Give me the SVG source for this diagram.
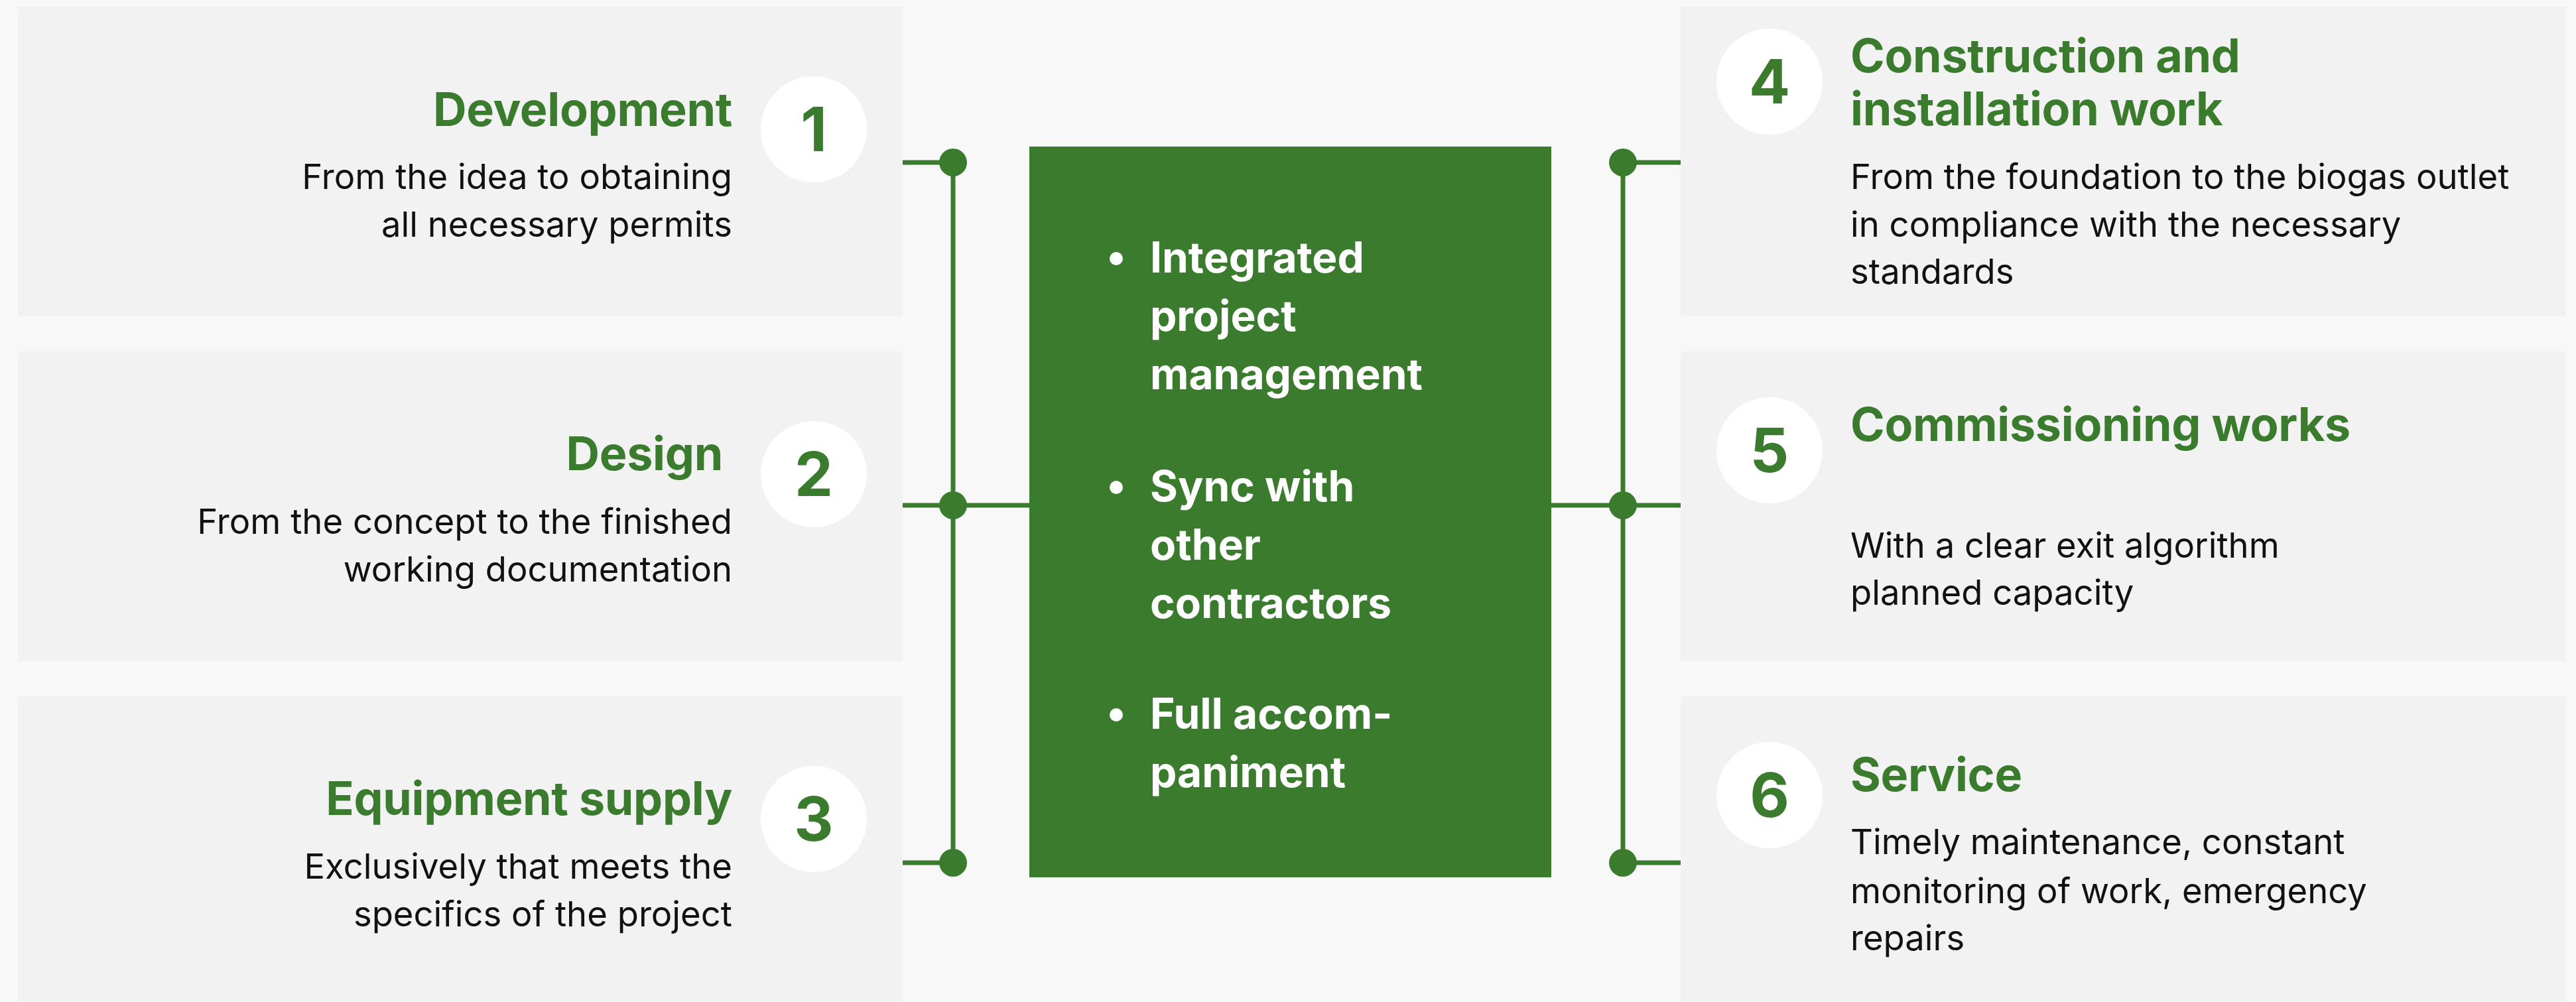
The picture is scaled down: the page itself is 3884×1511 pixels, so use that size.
<svg xmlns="http://www.w3.org/2000/svg" width="3884" height="1511" viewBox="0 0 3884 1511">
<style>
.panel{fill:#f2f2f2}
.num{fill:#ffffff}
.numt{font-family:Inter,"Liberation Sans",sans-serif;font-weight:700;font-size:92px;fill:#3a7b2e;text-anchor:middle}
.title{font-family:Inter,"Liberation Sans",sans-serif;font-weight:700;font-size:70px;fill:#3a7b2e;letter-spacing:-0.3px}
.desc{font-family:Inter,"Liberation Sans",sans-serif;font-weight:400;font-size:52.6px;fill:#111111}
.l{text-anchor:end}
.line{stroke:#3a7b2e;stroke-width:7;fill:none}
.dot{fill:#3a7b2e}
.ctext{font-family:Inter,"Liberation Sans",sans-serif;font-weight:700;font-size:64px;fill:#ffffff}
</style>
<rect width="3884" height="1511" fill="#f8f8f8"/>

<g id="connectors">
<line class="line" x1="1361" y1="245" x2="1437" y2="245"/>
<line class="line" x1="1361" y1="762" x2="1552" y2="762"/>
<line class="line" x1="1361" y1="1301" x2="1437" y2="1301"/>
<line class="line" x1="1437" y1="245" x2="1437" y2="1301"/>
<circle class="dot" cx="1437" cy="245" r="21"/>
<circle class="dot" cx="1437" cy="762" r="21"/>
<circle class="dot" cx="1437" cy="1301" r="21"/>
<line class="line" x1="2447" y1="245" x2="2534" y2="245"/>
<line class="line" x1="2339" y1="762" x2="2534" y2="762"/>
<line class="line" x1="2447" y1="1301" x2="2534" y2="1301"/>
<line class="line" x1="2447" y1="245" x2="2447" y2="1301"/>
<circle class="dot" cx="2447" cy="245" r="21"/>
<circle class="dot" cx="2447" cy="762" r="21"/>
<circle class="dot" cx="2447" cy="1301" r="21"/>
</g>

<g id="node-1">
<rect class="panel" x="27" y="10" width="1334" height="467"/>
<circle class="num" cx="1227" cy="195" r="80"/>
<text class="numt" x="1227" y="228">1</text>
<text class="title l" x="1104" y="190">Development</text>
<text class="desc l" x="1104" y="285">From the idea to obtaining</text>
<text class="desc l" x="1104" y="357">all necessary permits</text>
</g>

<g id="node-2">
<rect class="panel" x="27" y="530" width="1334" height="467"/>
<circle class="num" cx="1227" cy="715" r="80"/>
<text class="numt" x="1227" y="748">2</text>
<text class="title l" x="1090" y="709">Design</text>
<text class="desc l" x="1104" y="805">From the concept to the finished</text>
<text class="desc l" x="1104" y="877">working documentation</text>
</g>

<g id="node-3">
<rect class="panel" x="27" y="1050" width="1334" height="461"/>
<circle class="num" cx="1227" cy="1235" r="80"/>
<text class="numt" x="1227" y="1268">3</text>
<text class="title l" x="1104" y="1229">Equipment supply</text>
<text class="desc l" x="1104" y="1325">Exclusively that meets the</text>
<text class="desc l" x="1104" y="1397">specifics of the project</text>
</g>

<g id="node-center">
<rect x="1552" y="221" width="787" height="1102" fill="#3a7b2e"/>
<circle cx="1683" cy="390" r="10" fill="#ffffff"/>
<text class="ctext" x="1734" y="411">Integrated</text>
<text class="ctext" x="1734" y="499">project</text>
<text class="ctext" x="1734" y="587">management</text>
<circle cx="1683" cy="735" r="10" fill="#ffffff"/>
<text class="ctext" x="1734" y="756">Sync with</text>
<text class="ctext" x="1734" y="844">other</text>
<text class="ctext" x="1734" y="932">contractors</text>
<circle cx="1683" cy="1078" r="10" fill="#ffffff"/>
<text class="ctext" x="1734" y="1099">Full accom-</text>
<text class="ctext" x="1734" y="1187">paniment</text>
</g>

<g id="node-4">
<rect class="panel" x="2534" y="10" width="1335" height="467"/>
<circle class="num" cx="2668" cy="123" r="80"/>
<text class="numt" x="2668" y="156">4</text>
<text class="title" x="2790" y="109">Construction and</text>
<text class="title" x="2790" y="189">installation work</text>
<text class="desc" x="2790" y="285">From the foundation to the biogas outlet</text>
<text class="desc" x="2790" y="357">in compliance with the necessary</text>
<text class="desc" x="2790" y="428">standards</text>
</g>

<g id="node-5">
<rect class="panel" x="2534" y="530" width="1335" height="467"/>
<circle class="num" cx="2668" cy="679" r="80"/>
<text class="numt" x="2668" y="712">5</text>
<text class="title" x="2790" y="665">Commissioning works</text>
<text class="desc" x="2790" y="841">With a clear exit algorithm</text>
<text class="desc" x="2790" y="912">planned capacity</text>
</g>

<g id="node-6">
<rect class="panel" x="2534" y="1050" width="1335" height="461"/>
<circle class="num" cx="2668" cy="1199" r="80"/>
<text class="numt" x="2668" y="1232">6</text>
<text class="title" x="2790" y="1193">Service</text>
<text class="desc" x="2790" y="1288">Timely maintenance, constant</text>
<text class="desc" x="2790" y="1362">monitoring of work, emergency</text>
<text class="desc" x="2790" y="1433">repairs</text>
</g>
</svg>
